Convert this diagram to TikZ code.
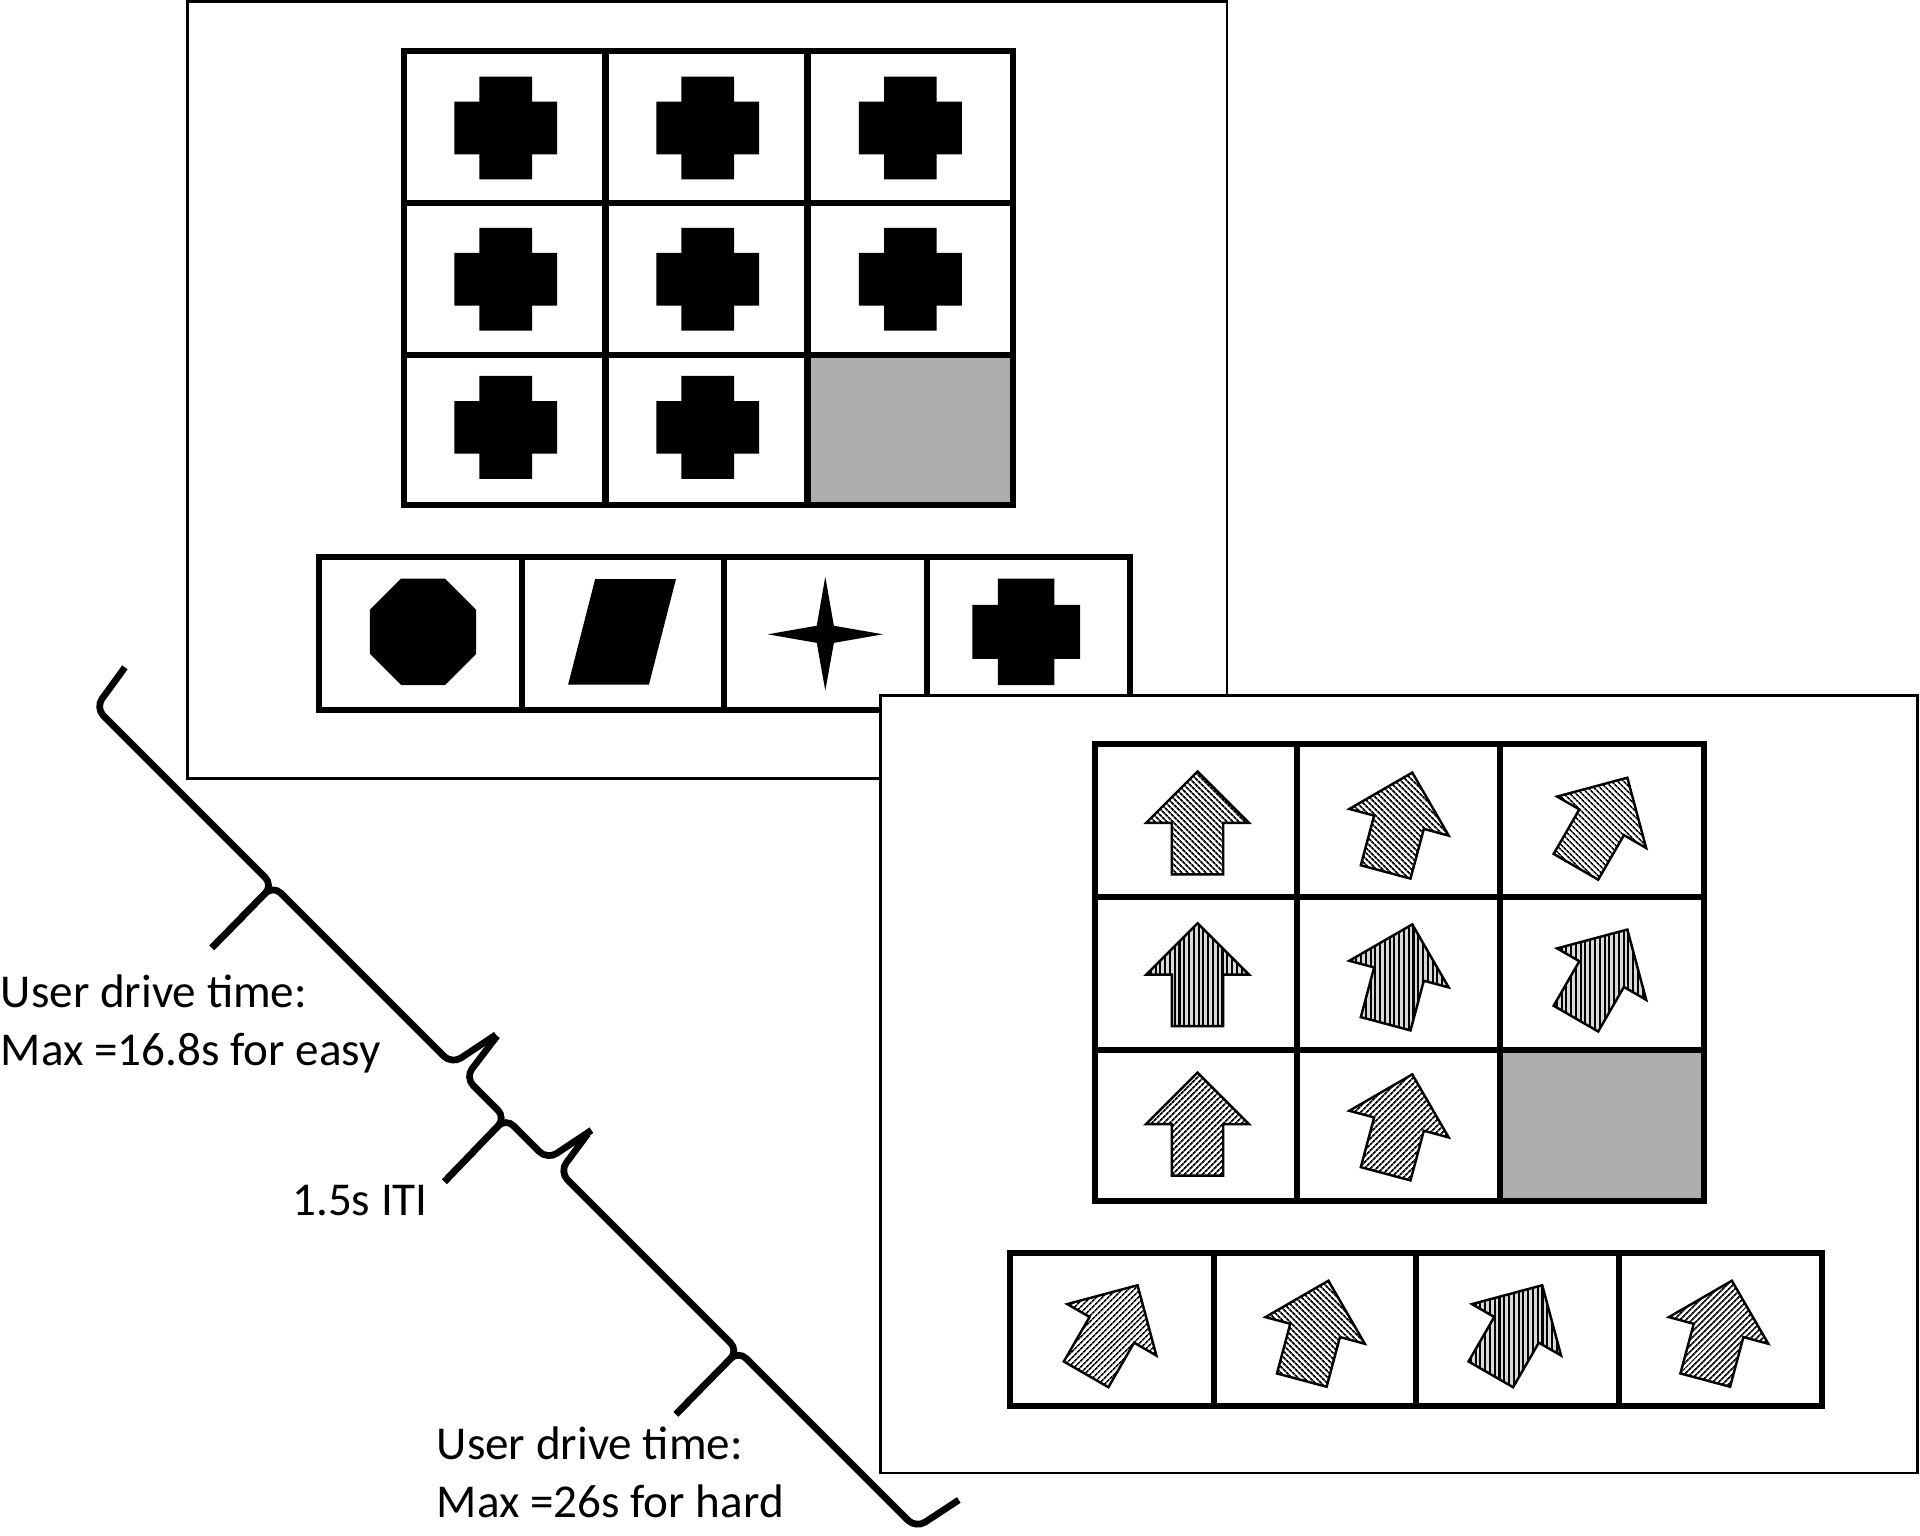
\documentclass[tikz,border=0pt]{standalone}
\usepackage{fontspec}
\setmainfont{Carlito}
\usetikzlibrary{patterns.meta}
\definecolor{cellgray}{RGB}{173,173,173}
\tikzset{
  panel/.style={draw=black, fill=white, line width=0.22mm},
  gridline/.style={draw=black, line width=0.5mm},
  arrowshape/.style={draw=black, line width=0.2mm, line join=miter},
  hatchA/.style={preaction={fill=white}, pattern={Lines[angle=-45,distance=0.38mm,line width=0.17mm]}},
  hatchB/.style={preaction={fill=white}, pattern={Lines[angle=45,distance=0.38mm,line width=0.17mm]}},
  hatchV/.style={preaction={fill=gray!30}, pattern={Lines[angle=90,distance=0.39mm,line width=0.17mm]}},
  bracepath/.style={draw=black, line width=0.55mm, rounded corners=0.9mm},
  lbl/.style={inner sep=0pt, font=\fontsize{10.95}{13.4}\selectfont, align=left},
}
\begin{document}
\begin{tikzpicture}[x=0.1mm, y=-0.1mm]
\useasboundingbox (0,0) rectangle (1568,1254);

% ---------- panel 1 ----------
\draw[panel] (153,1.5) rectangle (1002,636);
\fill[cellgray] (659.5,290) rectangle (827,412.5);
\draw[gridline] (330,41.5) rectangle (827,412.5);
\draw[gridline] (494.5,41.5) -- (494.5,412.5) (659.5,41.5) -- (659.5,412.5)
                (330,166) -- (827,166) (330,290) -- (827,290);
% crosses
\foreach \cx/\cy in {413/104.5,578/104.5,743.5/104.5,413/228,578/228,743.5/228,413/349,578/349}{
    \fill[shift={(\cx,\cy)}] (-21.5,-42) -- (21.5,-42) -- (21.5,-21.5) -- (42,-21.5) -- (42,21.5) -- (21.5,21.5)
      -- (21.5,42) -- (-21.5,42) -- (-21.5,21.5) -- (-42,21.5) -- (-42,-21.5) -- (-21.5,-21.5) -- cycle;
}

% answer row 1
\draw[gridline] (260.5,455) rectangle (922.5,579.5);
\draw[gridline] (426.5,455) -- (426.5,579.5) (591,455) -- (591,579.5) (757,455) -- (757,579.5);
% octagon
\fill (345.5,516) +(22.5:47) -- +(67.5:47) -- +(112.5:47) -- +(157.5:47) -- +(202.5:47)
   -- +(247.5:47) -- +(292.5:47) -- +(337.5:47) -- cycle;
% parallelogram
\fill (486,473) -- (552,473) -- (530,559) -- (464,559) -- cycle;
% four-point star
\fill (674,471) -- (681,511) -- (721,518) -- (681,525) -- (674,564) -- (667,525) -- (627,518) -- (667,511) -- cycle;
% cross
\fill[shift={(838,516)}] (-23,-43.5) -- (23,-43.5) -- (23,-22) -- (44,-22) -- (44,22) -- (23,22)
   -- (23,43.5) -- (-23,43.5) -- (-23,22) -- (-44,22) -- (-44,-22) -- (-23,-22) -- cycle;

% ---------- panel 2 ----------
\draw[panel] (719,568) rectangle (1566,1203);
\fill[cellgray] (1225,857.5) rectangle (1391.5,981);
\draw[gridline] (894,607.5) rectangle (1391.5,981);
\draw[gridline] (1059.5,607.5) -- (1059.5,981) (1225,607.5) -- (1225,981)
                (894,732.5) -- (1391.5,732.5) (894,857.5) -- (1391.5,857.5);

% row 1
\draw[arrowshape, hatchA, shift={(978,672)}] (0,-42) -- (42,0) -- (21,0) -- (21,42) -- (-21,42) -- (-21,0) -- (-42,0) -- cycle;
\draw[arrowshape, hatchA, shift={(1142.5,671.5)}] (10.87,-40.57) -- (40.57,10.87) -- (20.28,5.43) -- (9.41,46.0) -- (-31.15,35.14) -- (-20.28,-5.43) -- (-40.57,-10.87) -- cycle;
\draw[arrowshape, hatchA, shift={(1308,671.5)}] (21,-36.37) -- (36.37,21) -- (18.19,10.5) -- (-2.81,46.87) -- (-39.19,25.87) -- (-18.19,-10.5) -- (-36.37,-21) -- cycle;
% row 2
\draw[arrowshape, hatchV, shift={(978,796)}] (0,-42) -- (42,0) -- (21,0) -- (21,42) -- (-21,42) -- (-21,0) -- (-42,0) -- cycle;
\draw[arrowshape, hatchV, shift={(1142.5,795.5)}] (10.87,-40.57) -- (40.57,10.87) -- (20.28,5.43) -- (9.41,46.0) -- (-31.15,35.14) -- (-20.28,-5.43) -- (-40.57,-10.87) -- cycle;
\draw[arrowshape, hatchV, shift={(1308,795.5)}] (21,-36.37) -- (36.37,21) -- (18.19,10.5) -- (-2.81,46.87) -- (-39.19,25.87) -- (-18.19,-10.5) -- (-36.37,-21) -- cycle;
% row 3
\draw[arrowshape, hatchB, shift={(978,918)}] (0,-42) -- (42,0) -- (21,0) -- (21,42) -- (-21,42) -- (-21,0) -- (-42,0) -- cycle;
\draw[arrowshape, hatchB, shift={(1142.5,918)}] (10.87,-40.57) -- (40.57,10.87) -- (20.28,5.43) -- (9.41,46.0) -- (-31.15,35.14) -- (-20.28,-5.43) -- (-40.57,-10.87) -- cycle;

% answer row 2
\draw[gridline] (824.5,1023) rectangle (1488,1148);
\draw[gridline] (991.5,1023) -- (991.5,1148) (1156.5,1023) -- (1156.5,1148) (1322,1023) -- (1322,1148);
\draw[arrowshape, hatchB, shift={(908,1086)}] (21,-36.37) -- (36.37,21) -- (18.19,10.5) -- (-2.81,46.87) -- (-39.19,25.87) -- (-18.19,-10.5) -- (-36.37,-21) -- cycle;
\draw[arrowshape, hatchA, shift={(1074,1086.5)}] (10.87,-40.57) -- (40.57,10.87) -- (20.28,5.43) -- (9.41,46.0) -- (-31.15,35.14) -- (-20.28,-5.43) -- (-40.57,-10.87) -- cycle;
\draw[arrowshape, hatchV, shift={(1238.5,1086)}] (21,-36.37) -- (36.37,21) -- (18.19,10.5) -- (-2.81,46.87) -- (-39.19,25.87) -- (-18.19,-10.5) -- (-36.37,-21) -- cycle;
\draw[arrowshape, hatchB, shift={(1403.5,1086.5)}] (10.87,-40.57) -- (40.57,10.87) -- (20.28,5.43) -- (9.41,46.0) -- (-31.15,35.14) -- (-20.28,-5.43) -- (-40.57,-10.87) -- cycle;

% ---------- time line braces ----------
\draw[bracepath] (102,545) -- (78,578) -- (223,723) -- (173,774);
\draw[bracepath] (173,774) -- (223,723) -- (369,869) -- (405,845);
\draw[bracepath] (406,846) -- (380,880) -- (413,913) -- (363,965);
\draw[bracepath] (363,965) -- (413,913) -- (447,947) -- (483,923);
\draw[bracepath] (480,926) -- (457,957) -- (603,1103) -- (552,1155);
\draw[bracepath] (552,1155) -- (603,1103) -- (748,1248) -- (783,1225);

% ---------- labels ----------
\node[lbl, anchor=base west] (easy) at (0,870) {User drive time:\\Max =16.8s for easy};
\node[lbl, anchor=base west] (iti) at (238,993) {1.5s ITI};
\node[lbl, anchor=base west] (hard) at (356,1239) {User drive time:\\Max =26s for hard};
\end{tikzpicture}
\end{document}
